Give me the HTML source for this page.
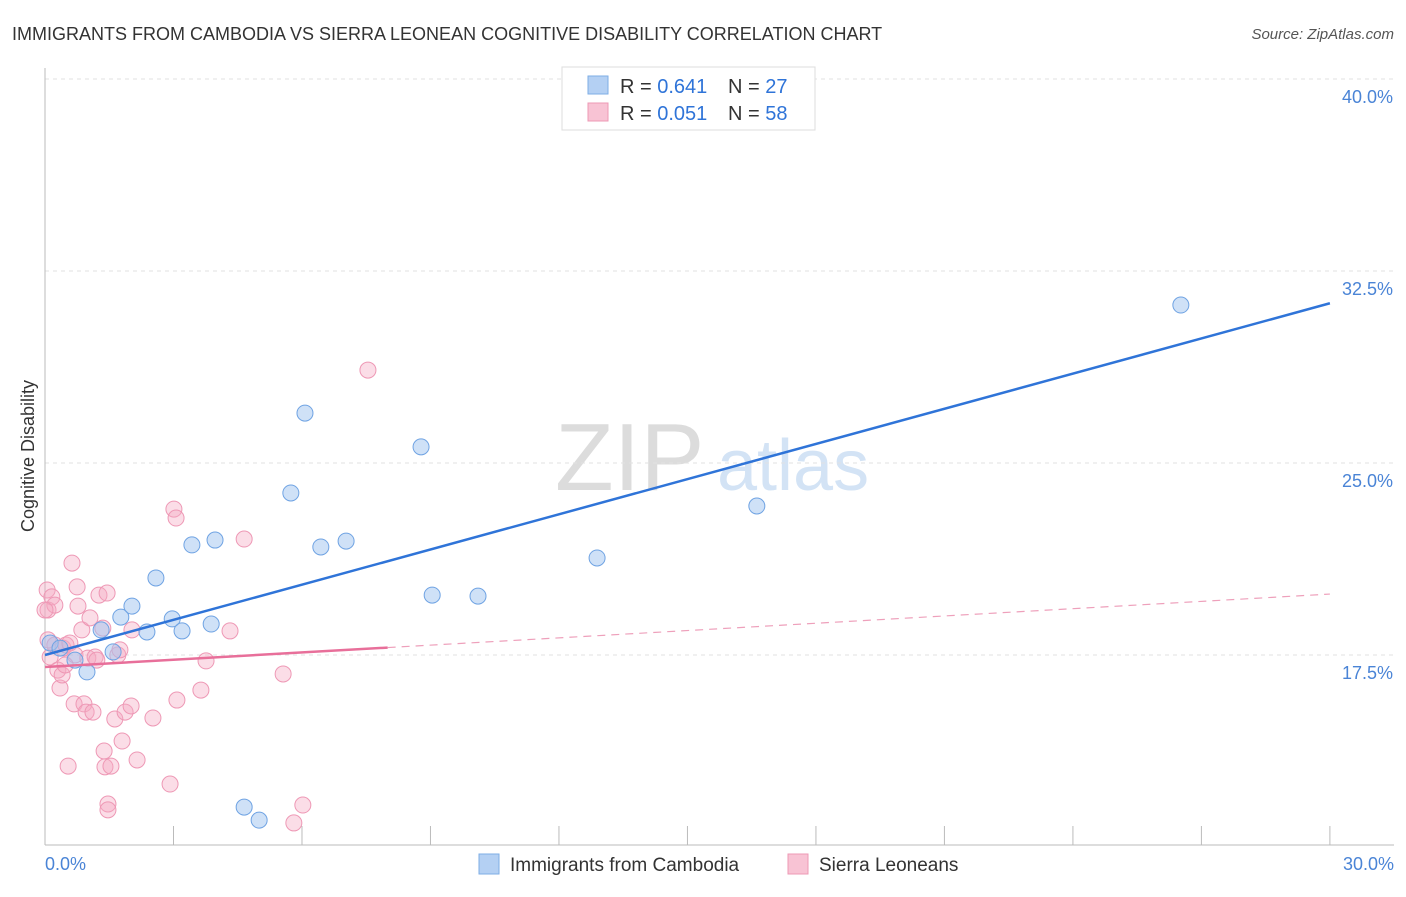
<!DOCTYPE html>
<html><head><meta charset="utf-8"><style>
body{margin:0;background:#fff;font-family:"Liberation Sans",sans-serif;}
svg text{font-family:"Liberation Sans",sans-serif;}
</style></head><body>
<svg id="chart" width="1406" height="892" xmlns="http://www.w3.org/2000/svg">
<text x="12" y="40" font-size="18" fill="#333">IMMIGRANTS FROM CAMBODIA VS SIERRA LEONEAN COGNITIVE DISABILITY CORRELATION CHART</text>
<text x="1394" y="39" font-size="15" fill="#555" text-anchor="end" font-style="italic">Source: ZipAtlas.com</text>
<text x="555" y="490" font-size="96" fill="#dcdcdc" font-family="Liberation Serif">ZIP</text>
<text x="717" y="490" font-size="72" fill="#d3e3f5">atlas</text>
<g id="grid"></g>
<line x1="45" y1="68" x2="45" y2="845" stroke="#bbb"/>
<line x1="45" y1="845" x2="1394" y2="845" stroke="#bbb"/>
<text transform="translate(34,456) rotate(-90)" font-size="18" fill="#333" text-anchor="middle">Cognitive Disability</text>
<text x="45" y="870" font-size="18" fill="#4a84d6">0.0%</text>
<text x="1394" y="870" font-size="18" fill="#4a84d6" text-anchor="end">30.0%</text>
<g id="marks"></g>
<g>
<rect x="562" y="67" width="253" height="63" fill="#fff" stroke="#ddd"/>
<rect x="588" y="76" width="20" height="18" fill="#b4d0f3" stroke="#7eaee6"/>
<rect x="588" y="103" width="20" height="18" fill="#f8c3d4" stroke="#ee98b5"/>
<text x="620" y="93" font-size="20" fill="#333">R = <tspan fill="#2f74d8">0.641</tspan></text>
<text x="728" y="93" font-size="20" fill="#333">N = <tspan fill="#2f74d8">27</tspan></text>
<text x="620" y="120" font-size="20" fill="#333">R = <tspan fill="#2f74d8">0.051</tspan></text>
<text x="728" y="120" font-size="20" fill="#333">N = <tspan fill="#2f74d8">58</tspan></text>
</g>
<g>
<rect x="479" y="854" width="20" height="20" fill="#b4d0f3" stroke="#7eaee6"/>
<text x="510" y="871" font-size="19" fill="#333">Immigrants from Cambodia</text>
<rect x="788" y="854" width="20" height="20" fill="#f8c3d4" stroke="#ee98b5"/>
<text x="819" y="871" font-size="19" fill="#333">Sierra Leoneans</text>
</g>
</svg>
<script>
const yTicks=[17.5,25.0,32.5,40.0];
const xTicks=[0,3,6,9,12,15,18,21,24,27,30];
const blueX=[0.12,0.35,0.70,0.98,1.31,1.59,1.77,2.03,2.38,2.59,2.97,3.20,3.43,3.88,3.97,4.65,5.00,5.74,6.07,6.44,7.03,8.78,9.04,10.11,12.89,16.62,26.52];
const blueY=[17.97,17.77,17.30,16.84,18.48,17.62,18.98,19.41,18.40,20.51,18.91,18.44,21.80,18.71,21.99,11.56,11.05,23.83,26.95,21.72,21.95,25.63,19.84,19.80,21.29,23.32,31.17];
const pinkX=[0.05,0.07,0.16,0.23,0.07,0.12,0.23,0.30,0.35,0.40,0.42,0.49,0.58,0.63,0.54,0.68,0.70,0.75,0.77,0.86,0.91,0.96,1.00,1.05,1.12,1.17,1.26,1.35,1.38,1.40,1.45,1.47,1.47,1.54,1.63,1.70,1.80,1.87,2.01,2.03,2.15,2.52,2.92,3.01,3.06,3.08,3.64,3.76,4.32,4.65,5.56,5.81,6.02,7.54,0.0,0.47,1.21,1.75];
const pinkY=[20.04,19.26,19.77,19.45,18.09,17.42,17.89,16.91,16.21,16.72,17.77,17.89,17.97,21.09,13.16,15.59,17.50,20.16,19.41,18.48,15.59,15.27,17.38,18.95,15.27,17.42,19.84,18.55,13.75,13.13,19.92,11.68,11.45,13.16,15.0,17.5,14.14,15.27,15.51,18.48,13.40,15.04,12.46,23.20,22.85,15.74,16.13,17.27,18.44,22.03,16.76,10.94,11.64,28.63,19.26,17.11,17.30,17.70];
const blueTrend=[17.5,0.458];
const pinkTrend=[17.03,0.095];
const sx=v=>45+v*42.83, sy=v=>79+(40-v)*25.6;
const NS='http://www.w3.org/2000/svg';
const grid=document.getElementById('grid'), marks=document.getElementById('marks');
function mk(tag,attrs,parent){const e=document.createElementNS(NS,tag);for(const k in attrs)e.setAttribute(k,attrs[k]);parent.appendChild(e);return e;}
yTicks.forEach(t=>{
 const l=mk('line',{x1:45,x2:1394,y1:sy(t),y2:sy(t),stroke:'#e2e2e2','stroke-dasharray':'4,4'},grid);
 
 
 const tx=mk('text',{x:1393,y:sy(t)+24,'font-size':18,fill:'#4a84d6','text-anchor':'end'},grid);
 tx.textContent=t.toFixed(1)+'%';
 
 
});
xTicks.forEach(t=>{
 const l=mk('line',{x1:sx(t),x2:sx(t),y1:826,y2:845,stroke:'#bbb'},grid);
 
 
});
pinkX.forEach((x,i)=>{
 const c=mk('circle',{cx:sx(x),cy:sy(pinkY[i]),r:8,fill:'rgba(244,170,195,0.4)',stroke:'#ee98b5','stroke-width':1},marks);
 
 
});
blueX.forEach((x,i)=>{
 const c=mk('circle',{cx:sx(x),cy:sy(blueY[i]),r:8,fill:'rgba(160,196,240,0.5)',stroke:'#6fa3e3','stroke-width':1},marks);
 
 
});
const bl=mk('line',{x1:sx(0),y1:sy(blueTrend[0]),x2:sx(30),y2:sy(blueTrend[0]+30*blueTrend[1]),stroke:'#2f74d8','stroke-width':2.5},marks);


const pl=mk('line',{x1:sx(0),y1:sy(pinkTrend[0]),x2:sx(8),y2:sy(pinkTrend[0]+8*pinkTrend[1]),stroke:'#e86f9a','stroke-width':2.5},marks);


const pd=mk('line',{x1:sx(8),y1:sy(pinkTrend[0]+8*pinkTrend[1]),x2:sx(30),y2:sy(pinkTrend[0]+30*pinkTrend[1]),stroke:'#eea0bb','stroke-width':1.2,'stroke-dasharray':'8,6'},marks);


</script>
</body></html>
